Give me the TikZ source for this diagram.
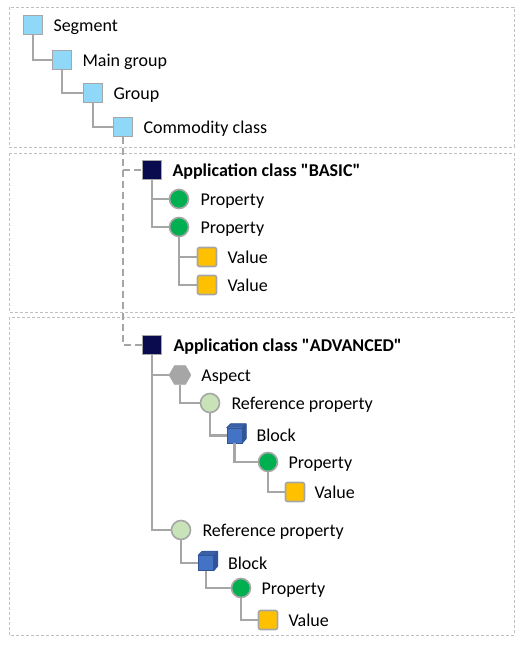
\documentclass[tikz,border=0pt]{standalone}
\usepackage{fontspec}
\setmainfont{Carlito}
\usetikzlibrary{shapes.geometric}
\definecolor{linegray}{HTML}{A6A6A6}
\definecolor{boxgray}{HTML}{BFBFBF}
\definecolor{lblue}{HTML}{8FD8F8}
\definecolor{navy}{HTML}{0A0A4E}
\definecolor{pgreen}{HTML}{00B050}
\definecolor{amber}{HTML}{FFC000}
\definecolor{palegreen}{HTML}{C9E3B8}
\definecolor{cubeblue}{HTML}{4472C4}
\definecolor{cubedark}{HTML}{2F5597}
\tikzset{
  conn/.style={draw=linegray, line width=2.8pt},
  dconn/.style={draw=linegray, line width=2.8pt, dash pattern=on 7pt off 4pt},
  frame/.style={draw=boxgray, line width=1pt, dash pattern=on 3pt off 2pt},
  icon/.style={draw=linegray, line width=1.6pt, minimum size=19pt, inner sep=0pt},
  sqb/.style={icon, rectangle, fill=lblue},
  sqn/.style={icon, rectangle, fill=navy},
  sqv/.style={icon, rectangle, fill=amber, rounded corners=2pt},
  cg/.style={icon, circle, fill=pgreen},
  cp/.style={icon, circle, fill=palegreen},
  hexa/.style={regular polygon, regular polygon sides=6, fill=linegray, draw=linegray, minimum size=22pt, inner sep=0pt},
  blockf/.style={rectangle, fill=cubeblue, draw=cubedark, line width=0.6pt, minimum size=15pt, inner sep=0pt},
  txt/.style={anchor=west, inner sep=0pt, text height=12pt, text depth=0pt, font=\fontsize{18}{21}\selectfont},
  btxt/.style={txt, font=\fontsize{18}{21}\selectfont\bfseries}
}
\begin{document}
\begin{tikzpicture}[x=1pt,y=-1pt]
\useasboundingbox (0,0) rectangle (528,646);
% frames
\draw[frame] (9,7) rectangle (514,147);
\draw[frame] (9,153) rectangle (514,312);
\draw[frame] (9,317) rectangle (514,635);
% icons
\node[sqb] (seg) at (33,25) {};
\node[sqb] (main) at (62,60) {};
\node[sqb] (grp) at (93,93) {};
\node[sqb] (com) at (123,127) {};
\node[sqn] (basic) at (152,170) {};
\node[cg] (p1) at (179,199) {};
\node[cg] (p2) at (179,227) {};
\node[sqv] (v1) at (207,257) {};
\node[sqv] (v2) at (207,285) {};
\node[sqn] (adv) at (152,345) {};
\node[hexa] (asp) at (180,375) {};
\node[cp] (rp1) at (210,403) {};
\node[blockf] (blk1) at (234.5,435.5) {};
\node[cg] (p3) at (268,462) {};
\node[sqv] (v3) at (295,492) {};
\node[cp] (rp2) at (181,530) {};
\node[blockf] (blk2) at (206,563) {};
\node[cg] (p4) at (241,588) {};
\node[sqv] (v4) at (268,620) {};
% cube tops
\foreach \b in {blk1,blk2}{
  \filldraw[fill=cubeblue!85!black, draw=cubedark, line width=0.6pt, line join=round]
    (\b.north west) -- ++(4,-4) -- ++(15,0) -- (\b.north east) -- cycle;
  \filldraw[fill=cubedark, draw=cubedark, line width=0.6pt, line join=round]
    (\b.north east) -- ++(4,-4) -- ++(0,15) -- (\b.south east) -- cycle;
}
% labels
\node[txt] (tseg) at ([xshift=10]seg.east) {Segment};
\node[txt] (tmain) at ([xshift=10]main.east) {Main group};
\node[txt] (tgrp) at ([xshift=10]grp.east) {Group};
\node[txt] (tcom) at ([xshift=10]com.east) {Commodity class};
\node[btxt] (tbasic) at ([xshift=10]basic.east) {Application class \textquotedbl BASIC\textquotedbl};
\node[txt] (tp1) at ([xshift=11]p1.east) {Property};
\node[txt] (tp2) at ([xshift=11]p2.east) {Property};
\node[txt] (tv1) at ([xshift=10]v1.east) {Value};
\node[txt] (tv2) at ([xshift=10]v2.east) {Value};
\node[btxt] (tadv) at ([xshift=11]adv.east) {Application class \textquotedbl ADVANCED\textquotedbl};
\node[txt] (tasp) at ([xshift=10]asp.east) {Aspect};
\node[txt] (trp1) at ([xshift=11]rp1.east) {Reference property};
\node[txt] (tblk1) at ([xshift=14]blk1.east) {Block};
\node[txt] (tp3) at ([xshift=10]p3.east) {Property};
\node[txt] (tv3) at ([xshift=9]v3.east) {Value};
\node[txt] (trp2) at ([xshift=11]rp2.east) {Reference property};
\node[txt] (tblk2) at ([xshift=14]blk2.east) {Block};
\node[txt] (tp4) at ([xshift=10]p4.east) {Property};
\node[txt] (tv4) at ([xshift=10]v4.east) {Value};
% connectors
\draw[conn] (seg.south) |- (main.west);
\draw[conn] (main.south) |- (grp.west);
\draw[conn] (grp.south) |- (com.west);
\coordinate (br) at (com.south |- basic.west);
\draw[dconn] (com.south) |- (adv.west);
\draw[dconn] (br) -- (basic.west);
\draw[conn] (basic.south) |- (p1.west);
\draw[conn] (basic.south) |- (p2.west);
\draw[conn] (p2.south) |- (v1.west);
\draw[conn] (p2.south) |- (v2.west);
\draw[conn] (adv.south) |- (asp.west);
\draw[conn] (adv.south) |- (rp2.west);
\draw[conn] (asp.south) |- (rp1.west);
\draw[conn] (rp1.south) |- (blk1.west);
\draw[conn] (blk1.south) |- (p3.west);
\draw[conn] (p3.south) |- (v3.west);
\draw[conn] (rp2.south) |- (blk2.west);
\draw[conn] (blk2.south) |- (p4.west);
\draw[conn] (p4.south) |- (v4.west);
\end{tikzpicture}
\end{document}
